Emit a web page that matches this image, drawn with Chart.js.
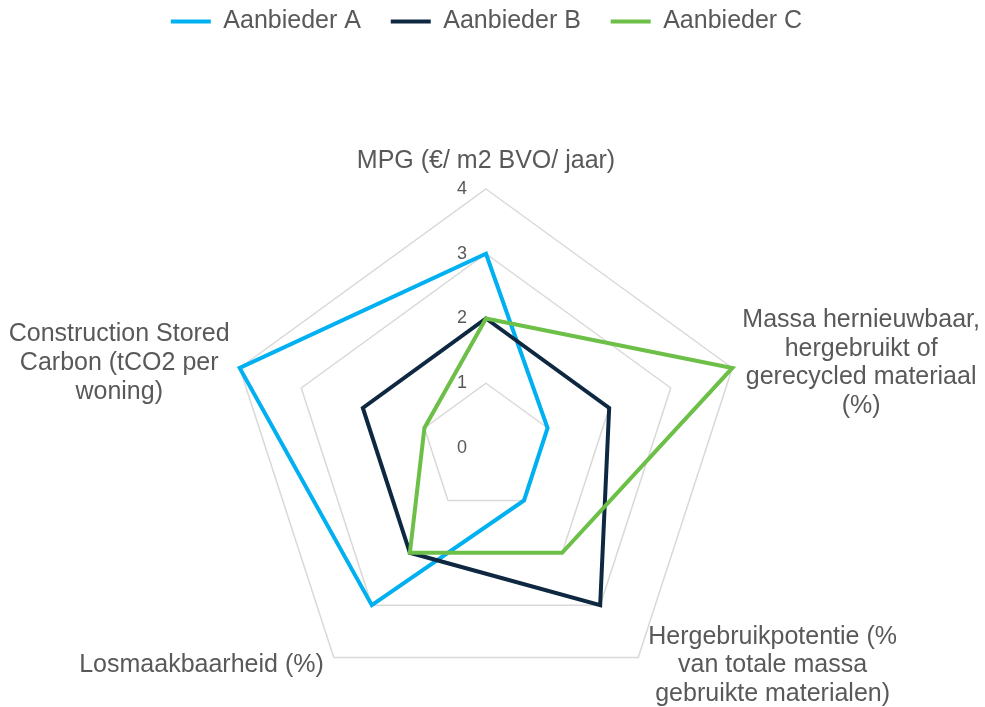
<!DOCTYPE html>
<html>
<head>
<meta charset="utf-8">
<script src="https://cdn.jsdelivr.net/npm/chart.js@4.4.1/dist/chart.umd.min.js"></script>
<style>
  html, body { margin: 0; padding: 0; background: #fff; }
</style>
</head>
<body>
<canvas id="myChart" width="985" height="707"></canvas>
<script>
'use strict';

// data
var categories = [
  ['MPG (€/ m2 BVO/ jaar)'],
  ['Massa hernieuwbaar,', 'hergebruikt of', 'gerecycled materiaal', '(%)'],
  ['Hergebruikpotentie (%', 'van totale massa', 'gebruikte materialen)'],
  ['Losmaakbaarheid (%)'],
  ['Construction Stored', 'Carbon (tCO2 per', 'woning)']
];
var seriesNames = ['Aanbieder A', 'Aanbieder B', 'Aanbieder C'];
var valuesA = [3, 1, 1, 3, 4];
var valuesB = [2, 2, 3, 2, 2];
var valuesC = [2, 4, 2, 2, 1];
var tickValues = [0, 1, 2, 3, 4];

var colors = ['#00B0F0', '#0E2841', '#6CBF47'];
var textColor = '#595959';
var family = '"Liberation Sans", Arial, sans-serif';

// tick labels and multi-line axis labels, placed via the radial scale
var radarText = {
  id: 'radarText',
  beforeDatasetsDraw: function (chart) {
    var scale = chart.scales.r;
    var ctx = chart.ctx;
    ctx.save();
    ctx.fillStyle = textColor;
    ctx.textAlign = 'center';
    ctx.textBaseline = 'middle';

    ctx.font = '18px ' + family;
    tickValues.forEach(function (v) {
      var d = scale.getDistanceFromCenterForValue(v);
      ctx.fillText(String(v), scale.xCenter - 24, scale.yCenter - d);
    });

    ctx.font = '25px ' + family;
    var lineH = 28.7;
    categories.forEach(function (lines, i) {
      var p = scale.getPointPosition(i, scale.drawingArea);
      var w = Math.max.apply(null, lines.map(function (l) { return ctx.measureText(l).width; }));
      var h = lines.length * lineH;
      var dx = p.x - scale.xCenter;
      var cx, top;
      if (Math.abs(dx) < 5) {
        cx = p.x;
        top = p.y - 14 - h;
      } else {
        cx = dx > 0 ? p.x + 10 + w / 2 : p.x - 10 - w / 2;
        top = p.y - h / 2 + (p.y > scale.yCenter ? 8 : -5);
      }
      lines.forEach(function (l, k) {
        ctx.fillText(l, cx, top + lineH * (k + 0.5));
      });
    });
    ctx.restore();
  }
};

function makeSet(idx, values) {
  return {
    label: seriesNames[idx],
    data: values,
    borderColor: colors[idx],
    backgroundColor: colors[idx],
    borderWidth: 4,
    borderJoinStyle: 'miter',
    borderCapStyle: 'round',
    pointRadius: 0,
    fill: false,
    tension: 0,
    order: 3 - idx
  };
}

var canvas = document.getElementById('myChart').getContext('2d');

var chart = new Chart(canvas, {
  type: 'radar',
  data: {
    labels: categories,
    datasets: [makeSet(0, valuesA), makeSet(1, valuesB), makeSet(2, valuesC)]
  },
  plugins: [radarText],
  options: {
    responsive: false,
    animation: false,
    layout: { padding: { right: 12 } },
    plugins: {
      legend: {
        position: 'top',
        reverse: true,
        labels: {
          usePointStyle: true,
          pointStyle: 'line',
          pointStyleWidth: 40,
          padding: 9,
          color: textColor,
          font: { family: family, size: 25 },
          // wider gaps between items than the vertical padding allows
          generateLabels: function (chart) {
            var items = Chart.defaults.plugins.legend.labels.generateLabels(chart);
            items.forEach(function (it) {
              if (it.datasetIndex < seriesNames.length - 1) it.text += '   ';
            });
            return items;
          }
        }
      },
      // empty spacer between legend and plot
      title: {
        display: true,
        text: ' ',
        weight: 500,
        color: 'rgba(0,0,0,0)',
        font: { size: 10, lineHeight: 1 },
        padding: { top: 0, bottom: 135 }
      },
      tooltip: { enabled: false }
    },
    scales: {
      r: {
        min: 0,
        max: 4,
        ticks: { stepSize: 1, display: false },
        pointLabels: { display: false },
        angleLines: { display: false },
        grid: { color: '#D9D9D9', lineWidth: 1.5 }
      }
    }
  }
});
</script>
</body>
</html>
